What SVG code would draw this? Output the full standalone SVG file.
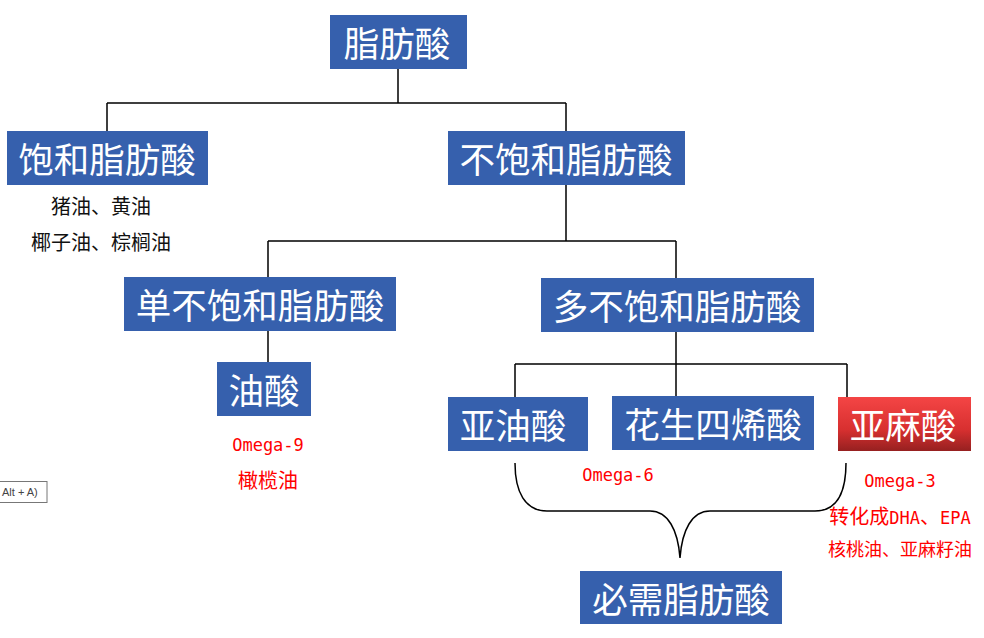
<svg xmlns="http://www.w3.org/2000/svg" width="984" height="638" viewBox="0 0 984 638">
<defs>
<linearGradient id="red" x1="0" y1="0" x2="0" y2="1">
<stop offset="0" stop-color="#f44545"/>
<stop offset="0.6" stop-color="#d83030"/>
<stop offset="1" stop-color="#962020"/>
</linearGradient>
</defs>
<style>
.box{fill:#3660AD}
.nt{fill:#fff;font-family:"Noto Sans CJK SC","Noto Sans",sans-serif;font-size:35.5px;text-anchor:middle;dominant-baseline:central}
.cn{stroke:#000;stroke-width:1.5;fill:none}
.lb{font-family:"Noto Sans CJK SC",sans-serif;font-size:20px;text-anchor:middle}
.sm{font-size:18px}
.blk{fill:#111}
.red{fill:#ff0000}
.mono{font-family:"DejaVu Sans Mono","Noto Sans CJK SC",monospace;font-size:17px;text-anchor:middle}
.lat{font-family:"DejaVu Sans Mono",monospace;font-size:17px}
</style>
<rect width="984" height="638" fill="#fff"/>
<g id="connectors">
<path class="cn" d="M398,69 V103 M107,103 H566 M107,103 V131 M566,103 V131"/>
<path class="cn" d="M566,184 V241 M268,241 H676 M268,241 V277 M676,241 V278"/>
<path class="cn" d="M268,331 V362"/>
<path class="cn" d="M676,332 V364 M515,364 H847 M515,364 V397 M676,364 V396 M847,364 V397"/>
<path class="cn" d="M515,463 C515,492 525,511 547,511 L650,511 C668,511 678,530 680,558 C682,530 692,511 710,511 L815,511 C837,511 846,492 846,463"/>
</g>
<g id="n_root"><rect class="box" x="330" y="15" width="137" height="54"/><text class="nt" x="397" y="41">脂肪酸</text></g>
<g id="n_sat"><rect class="box" x="7" y="131" width="201" height="54"/><text class="nt" x="107" y="157">饱和脂肪酸</text></g>
<g id="n_unsat"><rect class="box" x="448" y="131" width="237" height="54"/><text class="nt" x="566" y="157">不饱和脂肪酸</text></g>
<g id="n_mono"><rect class="box" x="124" y="277" width="272" height="54"/><text class="nt" x="260" y="303">单不饱和脂肪酸</text></g>
<g id="n_poly"><rect class="box" x="541" y="278" width="273" height="54"/><text class="nt" x="677" y="304">多不饱和脂肪酸</text></g>
<g id="n_oleic"><rect class="box" x="217" y="362" width="94" height="54"/><text class="nt" x="264" y="388">油酸</text></g>
<g id="n_la"><rect class="box" x="448" y="397" width="140" height="54"/><text class="nt" x="513" y="423">亚油酸</text></g>
<g id="n_aa"><rect class="box" x="612" y="396" width="202" height="54"/><text class="nt" x="713" y="422">花生四烯酸</text></g>
<g id="n_ala"><rect fill="url(#red)" x="838" y="397" width="133" height="54"/><text class="nt" x="903" y="423">亚麻酸</text></g>
<g id="n_ess"><rect class="box" x="580" y="571" width="202" height="53"/><text class="nt" x="681" y="597">必需脂肪酸</text></g>
<g id="labels">
<text class="lb blk" x="101" y="214">猪油、黄油</text>
<text class="lb blk" x="101" y="250">椰子油、棕榈油</text>
<text class="mono red" x="268" y="451">Omega-9</text>
<text class="lb red" x="268" y="488">橄榄油</text>
<text class="mono red" x="618" y="481">Omega-6</text>
<text class="mono red" x="900" y="487">Omega-3</text>
<text class="lb red" x="900" y="524">转化成<tspan class="lat">DHA</tspan>、<tspan class="lat">EPA</tspan></text>
<text class="lb sm red" x="900" y="556">核桃油、亚麻籽油</text>
</g>
<g id="tooltip">
<rect x="-2" y="481.5" width="49" height="21" fill="#fff" stroke="#777" stroke-width="1"/>
<text x="2" y="496" font-family="Liberation Sans,sans-serif" font-size="11" fill="#444">Alt + A)</text>
</g>
</svg>
